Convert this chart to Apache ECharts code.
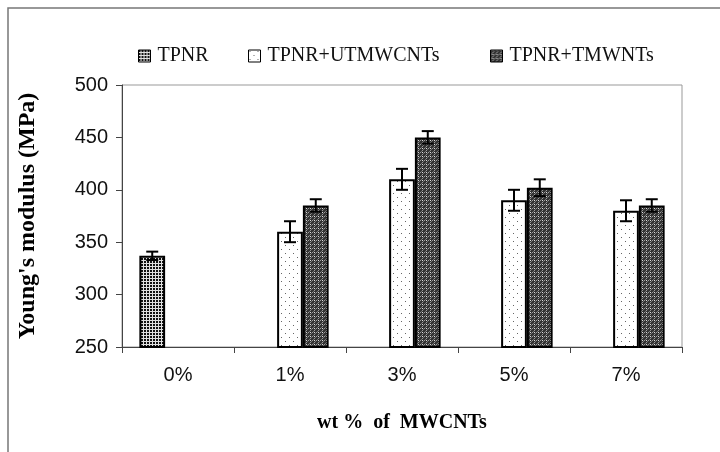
<!DOCTYPE html>
<html>
<head>
<meta charset="utf-8">
<script src="https://cdn.jsdelivr.net/npm/echarts@6/dist/echarts.min.js"></script>
<style>
html,body{margin:0;padding:0;background:#fff;}
#chart{width:720px;height:452px;}
</style>
</head>
<body>
<div id="chart"></div>
<script>
// ---- data ----
var categories = ['0%', '1%', '3%', '5%', '7%'];
var seriesNames = ['TPNR', 'TPNR+UTMWCNTs', 'TPNR+TMWNTs'];
var tpnr = [337, null, null, null, null];
var tpnrErr = [4, null, null, null, null];
var utm = [null, 360, 410, 390, 380];
var utmErr = [null, 10, 10, 10, 10];
var tm = [null, 385, 450, 402, 385];
var tmErr = [null, 6, 6, 8, 6];
var yTicks = [250, 300, 350, 400, 450, 500];

// ---- patterns ----
function makeTile(w, h, draw) {
  var c = document.createElement('canvas');
  c.width = w; c.height = h;
  var ctx = c.getContext('2d');
  draw(ctx);
  return {image: c, repeat: 'repeat'};
}
var patGrid = makeTile(3, 3, function (ctx) {
  ctx.fillStyle = '#111'; ctx.fillRect(0, 0, 3, 3);
  ctx.fillStyle = '#e0e0e0'; ctx.fillRect(0, 2, 3, 1); ctx.fillRect(2, 0, 1, 3);
});
var patDots = makeTile(8, 8, function (ctx) {
  ctx.fillStyle = '#fff'; ctx.fillRect(0, 0, 8, 8);
  ctx.fillStyle = '#666'; ctx.fillRect(1, 1, 1, 1); ctx.fillRect(5, 5, 1, 1);
});
var patCheck = makeTile(4, 4, function (ctx) {
  ctx.fillStyle = '#333'; ctx.fillRect(0, 0, 4, 4);
  ctx.fillStyle = '#9a9a9a'; ctx.fillRect(0, 0, 1, 1); ctx.fillRect(2, 2, 1, 1);
  ctx.fillStyle = '#707070'; ctx.fillRect(1, 3, 1, 1); ctx.fillRect(3, 1, 1, 1);
  ctx.fillStyle = '#dcdcdc'; ctx.fillRect(2, 0, 1, 1);
});
var patterns = [patGrid, patDots, patCheck];

var BAR_FRAC = 0.23;
var values = [tpnr, utm, tm];
var errs = [tpnrErr, utmErr, tmErr];

var series = [];
for (var k = 0; k < 3; k++) {
  series.push({
    name: seriesNames[k],
    type: 'bar',
    data: values[k],
    barWidth: (BAR_FRAC * 100) + '%',
    barGap: '0%',
    itemStyle: {color: patterns[k], borderColor: '#000', borderWidth: 2},
    emphasis: {disabled: true},
    z: 2
  });
}
for (var k2 = 0; k2 < 3; k2++) {
  (function (k) {
    var d = [];
    for (var i = 0; i < categories.length; i++) {
      if (values[k][i] != null) d.push([i, values[k][i], errs[k][i]]);
    }
    series.push({
      type: 'custom',
      name: 'err' + k,
      data: d,
      encode: {x: 0, y: 1},
      z: 5,
      silent: true,
      renderItem: function (params, api) {
        var cat = api.value(0), v = api.value(1), e = api.value(2);
        var band = api.size([1, 0])[0];
        var off = (k - 1) * band * BAR_FRAC;
        var top = api.coord([cat, v + e]);
        var bot = api.coord([cat, v - e]);
        var x = top[0] + off;
        var hw = 6;
        var st = {stroke: '#000', lineWidth: 2};
        return {
          type: 'group',
          children: [
            {type: 'line', shape: {x1: x, y1: top[1], x2: x, y2: bot[1]}, style: st},
            {type: 'line', shape: {x1: x - hw, y1: top[1], x2: x + hw, y2: top[1]}, style: st},
            {type: 'line', shape: {x1: x - hw, y1: bot[1], x2: x + hw, y2: bot[1]}, style: st}
          ]
        };
      }
    });
  })(k2);
}

var legendLefts = [133, 243, 485];
var legends = seriesNames.map(function (n, i) {
  return {
    data: [n],
    left: legendLefts[i],
    top: 41,
    itemWidth: 12,
    itemHeight: 12,
    itemGap: 0,
    selectedMode: false,
    icon: 'rect',
    itemStyle: {borderColor: '#000', borderWidth: 1},
    textStyle: {fontFamily: '"Liberation Serif", "Times New Roman", serif', fontSize: 20, color: '#111', padding: [0, 0, 0, 2]}
  };
});

var chart = echarts.init(document.getElementById('chart'), null, {renderer: 'canvas'});
chart.setOption({
  animation: false,
  backgroundColor: '#fff',
  legend: legends,
  grid: {left: 122, right: 38, top: 85, bottom: 105, show: true, borderColor: '#999', borderWidth: 1},
  xAxis: {
    type: 'category',
    data: categories,
    axisLine: {lineStyle: {color: '#444', width: 1}},
    axisTick: {show: true, length: 6, lineStyle: {color: '#444'}},
    axisLabel: {fontFamily: '"Liberation Sans", Arial, sans-serif', fontSize: 20, color: '#111', margin: 18},
    name: 'wt %  of  MWCNTs',
    nameLocation: 'middle',
    nameGap: 66,
    nameTextStyle: {fontFamily: '"Liberation Serif", "Times New Roman", serif', fontWeight: 'bold', fontSize: 20, color: '#000'}
  },
  yAxis: {
    type: 'value',
    min: yTicks[0],
    max: yTicks[yTicks.length - 1],
    interval: yTicks[1] - yTicks[0],
    splitLine: {show: false},
    axisLine: {show: true, lineStyle: {color: '#444', width: 1}},
    axisTick: {show: true, length: 6, lineStyle: {color: '#444'}},
    axisLabel: {fontFamily: '"Liberation Sans", Arial, sans-serif', fontSize: 20, color: '#111', margin: 14},
    name: "Young's modulus (MPa)",
    nameLocation: 'middle',
    nameGap: 82,
    nameTextStyle: {fontFamily: '"Liberation Serif", "Times New Roman", serif', fontWeight: 'bold', fontSize: 24, color: '#000'}
  },
  graphic: [{
    type: 'rect',
    shape: {x: 8, y: 8, width: 900, height: 900},
    style: {fill: null, stroke: '#777', lineWidth: 1.5},
    silent: true,
    z: -1
  }],
  series: series
});
</script>
</body>
</html>
